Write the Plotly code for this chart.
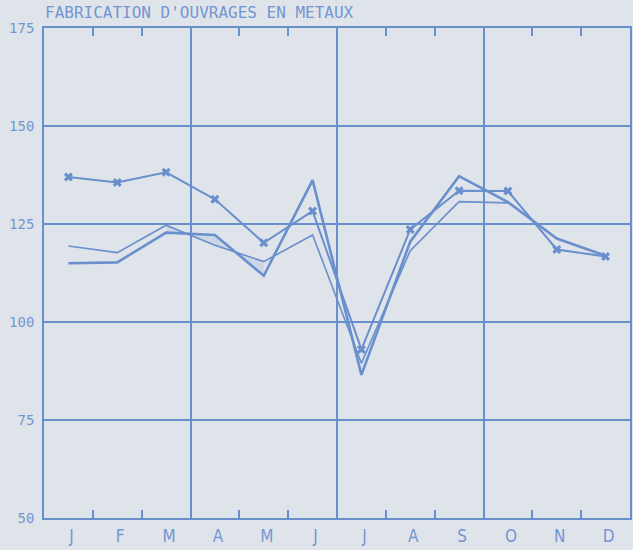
import plotly.graph_objects as go

# ---- data ----
months = ["J", "F", "M", "A", "M", "J", "J", "A", "S", "O", "N", "D"]
month_pos = list(range(1, 13))
series_marked = [137.0, 135.6, 138.2, 131.3, 120.2, 128.3, 93.0, 123.6, 133.5, 133.4, 118.5, 116.7]
series_thick = [115.0, 115.2, 122.8, 122.2, 111.8, 136.2, 86.5, 120.5, 137.2, 130.6, 121.3, 116.9]
series_thin = [119.4, 117.7, 124.7, 119.6, 115.4, 122.2, 89.5, 118.2, 130.7, 130.4, None, None]
y_ticks = [50, 75, 100, 125, 150, 175]
quarter_bounds = [0.5, 3.5, 6.5, 9.5, 12.5]
month_bounds = [m + 0.5 for m in range(1, 12)]
title_text = "FABRICATION D'OUVRAGES EN METAUX"

BLUE = "#6a8fcd"
TEXT = "#7396d2"
BG = "#dfe4ea"

fig = go.Figure()

# invisible carrier so the grid axis (x2) is drawn
fig.add_trace(go.Scatter(x=month_pos, y=series_marked, xaxis="x2", mode="lines",
                         line=dict(width=0), opacity=0, showlegend=False, hoverinfo="skip"))

# light shading between the two lower series (Mar-May)
fig.add_trace(go.Scatter(x=month_pos[2:5], y=series_thin[2:5], mode="lines",
                         line=dict(width=0), showlegend=False, hoverinfo="skip"))
fig.add_trace(go.Scatter(x=month_pos[2:5], y=series_thick[2:5], mode="lines",
                         line=dict(width=0), fill="tonexty",
                         fillcolor="rgba(106,143,205,0.16)", showlegend=False, hoverinfo="skip"))

fig.add_trace(go.Scatter(x=month_pos, y=series_thin, mode="lines",
                         line=dict(color=BLUE, width=1.6), showlegend=False))
fig.add_trace(go.Scatter(x=month_pos, y=series_thick, mode="lines",
                         line=dict(color=BLUE, width=2.6), showlegend=False))
fig.add_trace(go.Scatter(x=month_pos, y=series_marked, mode="lines+markers",
                         line=dict(color=BLUE, width=2),
                         marker=dict(symbol="x", size=8, color=BLUE),
                         showlegend=False))

fig.update_layout(
    width=633, height=550,
    margin=dict(l=44, r=1, t=28, b=32),
    paper_bgcolor=BG, plot_bgcolor=BG,
    title=dict(text=title_text, x=45 / 633, xanchor="left", xref="container",
               y=1 - 12 / 550, yref="container", yanchor="middle",
               font=dict(family="DejaVu Sans Mono", size=16, color=TEXT)),
    xaxis=dict(range=[0.5, 12.5], tickmode="array", tickvals=month_pos, ticktext=months,
               showgrid=False, zeroline=False, showline=False, ticks="",
               ticklabelstandoff=6, ticklabelshift=3,
               tickfont=dict(family="Liberation Sans Narrow, DejaVu Sans Condensed, DejaVu Sans",
                             size=17, color=TEXT)),
    xaxis2=dict(range=[0.5, 12.5], overlaying="x", anchor="y", side="bottom",
                tickmode="array", tickvals=quarter_bounds, showticklabels=False,
                showgrid=True, gridcolor=BLUE, gridwidth=1.6, zeroline=False,
                showline=True, linecolor=BLUE, linewidth=2, mirror="allticks", ticks="",
                minor=dict(tickmode="array", tickvals=month_bounds, ticks="inside",
                           ticklen=8, tickcolor=BLUE, tickwidth=1.5, showgrid=False)),
    yaxis=dict(range=[50, 175], tickmode="array", tickvals=y_ticks,
               showgrid=True, gridcolor=BLUE, gridwidth=1.8, zeroline=False,
               showline=True, linecolor=BLUE, linewidth=1.6, mirror=True, ticks="",
               ticklabelstandoff=5,
               tickfont=dict(family="DejaVu Sans Mono", size=14, color=TEXT)),
)

fig.write_html("out.html", config={"displayModeBar": False},
               post_script="document.body.style.margin='0';")
